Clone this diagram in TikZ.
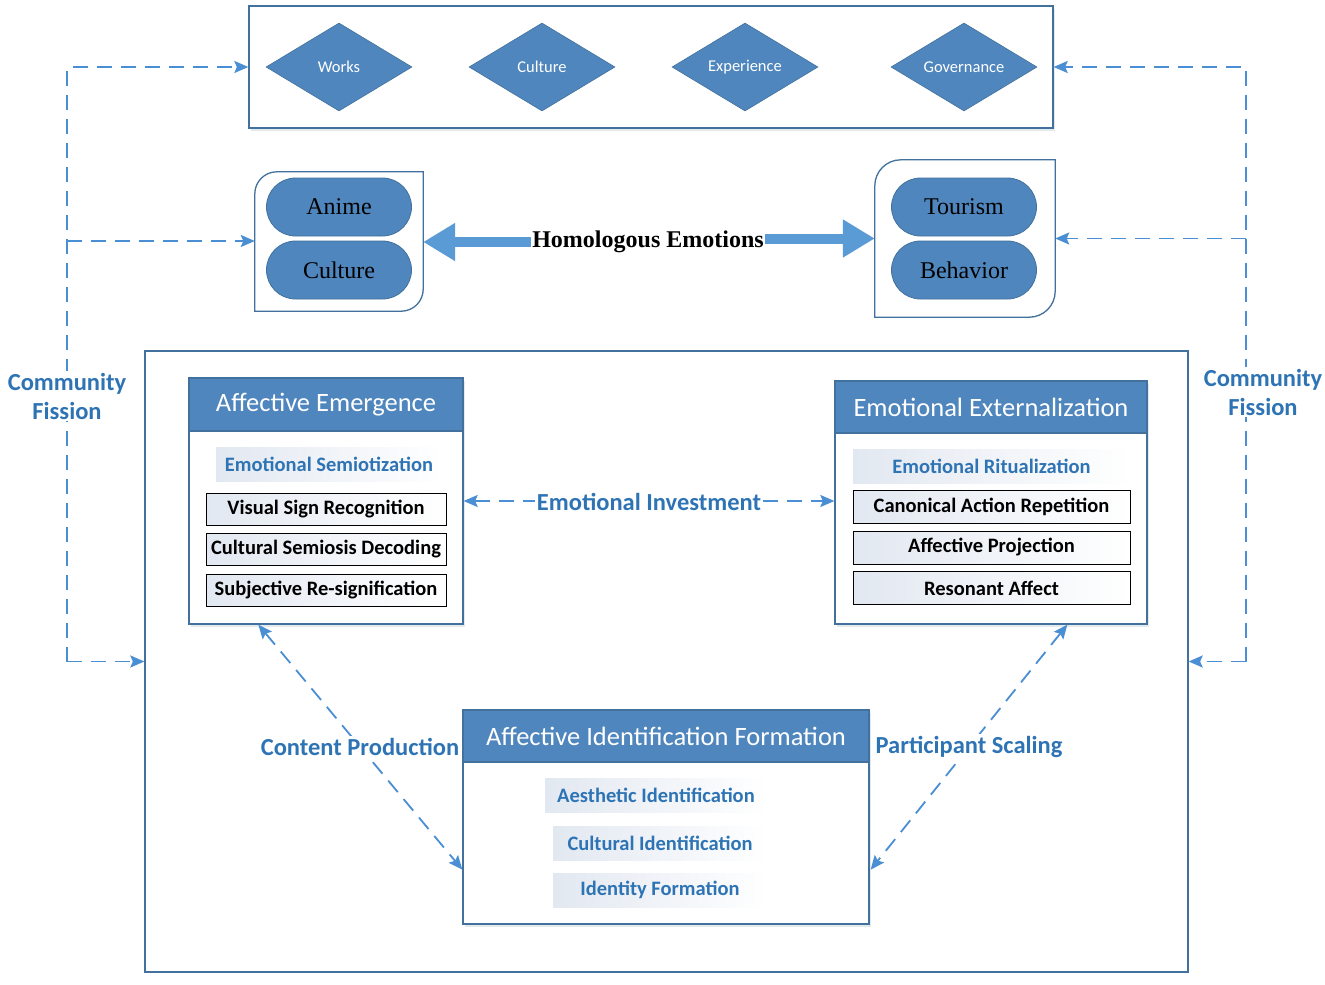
\documentclass[tikz,border=0pt]{standalone}
\usepackage{fontspec}
\setmainfont{Liberation Serif}
\newfontfamily\calib{Carlito}
\usetikzlibrary{shapes.geometric,arrows.meta,calc,shadows}
\definecolor{boxblue}{HTML}{4F86BD}
\definecolor{edgeblue}{HTML}{41719C}
\definecolor{dashblue}{HTML}{4A8ED4}
\definecolor{txtblue}{HTML}{2E74B5}
\definecolor{fatblue}{HTML}{5B9BD5}
\definecolor{gradL}{HTML}{E2E8F1}
\begin{document}
\begin{tikzpicture}[x=1pt,y=-1pt,
  dia/.style={diamond, fill=boxblue, draw=edgeblue, line width=0.6pt, minimum width=146pt, minimum height=88pt, inner sep=0pt, aspect=1.66, text=white, font=\calib\fontsize{16.5}{18}\selectfont},
  pill/.style={rectangle, rounded corners=29pt, fill=boxblue, draw=edgeblue, line width=0.8pt, minimum width=145pt, minimum height=58pt, font=\fontsize{24}{28}\selectfont},
  frame/.style={draw=edgeblue, line width=1.3pt, inner sep=0pt},
  shad/.style={drop shadow={shadow xshift=1.5pt, shadow yshift=-2.5pt, fill=edgeblue!30, opacity=0.5}},
  header/.style={fill=boxblue, draw=edgeblue, line width=1.3pt, text=white, inner sep=0pt, font=\calib\fontsize{26.5}{30}\selectfont},
  subt/.style={left color=gradL, right color=white, inner sep=0pt, minimum height=34pt, text=txtblue, font=\calib\bfseries\fontsize{20.5}{23}\selectfont},
  item/.style={draw=black, line width=1pt, left color=gradL, right color=white, inner sep=0pt, font=\calib\bfseries\fontsize{20.5}{23}\selectfont},
  dsh/.style={draw=dashblue, line width=1.8pt, dash pattern=on 15pt off 9pt},
  tip/.style={-{Stealth[length=14pt,width=12pt,inset=2.5pt]}},
  lbl/.style={fill=white, inner sep=2pt, text=txtblue, font=\calib\bfseries\fontsize{24.5}{29}\selectfont},
  fat/.style={draw=fatblue, line width=10pt, -{Triangle[length=32pt,width=36pt]}}
]
\useasboundingbox (0,0) rectangle (1325,985);
\fill[white] (0,0) rectangle (1325,985);

% top box with diamonds
\node[frame, shad, fill=white, minimum width=804pt, minimum height=122pt] (top) at (651,67) {};
\node[dia] (works) at (339,67) {Works};
\node[dia] (cult) at (542,67) {Culture};
\node[dia] (exper) at (745,67) {Experience};
\node[dia] (gov) at (964,67) {Governance};

% small boxes
\node[minimum width=168pt, minimum height=139pt, inner sep=0pt] (lbox) at (339,241.5) {};
\draw[draw=edgeblue, line width=1.3pt] (lbox.south west) -- (lbox.west) [rounded corners=22pt] -- (lbox.north west) -- (lbox.north) [sharp corners] -- (lbox.north east) -- (lbox.east) [rounded corners=22pt] -- (lbox.south east) -- (lbox.south) [sharp corners] -- cycle;
\node[minimum width=180pt, minimum height=157pt, inner sep=0pt] (rbox) at (965,238.5) {};
\draw[draw=edgeblue, line width=1.3pt] (rbox.south west) -- (rbox.west) [rounded corners=26pt] -- (rbox.north west) -- (rbox.north) [sharp corners] -- (rbox.north east) -- (rbox.east) [rounded corners=26pt] -- (rbox.south east) -- (rbox.south) [sharp corners] -- cycle;
\node[pill] (anime) at (339,207) {Anime};
\node[pill] (aculture) at (339,270) {Culture};
\node[pill] (tourism) at (964,207) {Tourism};
\node[pill] (behavior) at (964,270) {Behavior};

\node[font=\bfseries\fontsize{24}{26}\selectfont, inner sep=1pt] (homo) at (648,242) {Homologous Emotions};
\draw[fat] (homo.west) -- (homo.west -| lbox.east);
\draw[fat] (homo.east |- rbox.west) -- (rbox.west);

% big box
\node[frame, minimum width=1043pt, minimum height=621pt] (big) at (666.5,661.5) {};

% Affective Emergence
\node[frame, shad, fill=white, minimum width=274pt, minimum height=246pt] (ae) at (326,501) {};
\node[header, minimum width=274pt, minimum height=53pt, anchor=north] (aeh) at (ae.north) {Affective Emergence};
\node[subt, minimum width=226pt] (aes) at (329,464) {Emotional Semiotization};
\node[item, minimum width=240pt, minimum height=32pt] (ae1) at (326,509) {Visual Sign Recognition};
\node[item, minimum width=240pt, minimum height=32pt] (ae2) at (326,549.5) {Cultural Semiosis Decoding};
\node[item, minimum width=240pt, minimum height=32pt] (ae3) at (326,590) {Subjective Re-signification};

% Emotional Externalization
\node[frame, shad, fill=white, minimum width=312pt, minimum height=243pt] (ee) at (991,502.5) {};
\node[header, minimum width=312pt, minimum height=52pt, anchor=north] (eeh) at (ee.north) {Emotional Externalization};
\node[subt, minimum width=277pt] (ees) at (991.5,466) {Emotional Ritualization};
\node[item, minimum width=277pt, minimum height=33pt] (ee1) at (991.5,506.5) {Canonical Action Repetition};
\node[item, minimum width=277pt, minimum height=33pt] (ee2) at (991.5,547.5) {Affective Projection};
\node[item, minimum width=277pt, minimum height=33pt] (ee3) at (991.5,588) {Resonant Affect};

% Affective Identification Formation
\node[frame, shad, fill=white, minimum width=406pt, minimum height=214pt] (aif) at (666,817) {};
\node[header, minimum width=406pt, minimum height=52pt, anchor=north] (aifh) at (aif.north) {Affective Identification Formation};
\node[subt, minimum width=222pt] (aif1) at (656,795) {Aesthetic Identification};
\node[subt, minimum width=214pt] (aif2) at (660,843) {Cultural Identification};
\node[subt, minimum width=214pt] (aif3) at (660,890) {Identity Formation};

% inner connectors
\draw[dsh, {Stealth[length=14pt,width=12pt,inset=2.5pt]}-{Stealth[length=14pt,width=12pt,inset=2.5pt]}] (ae.east) -- (ae.east -| ee.west);
\draw[dsh, {Stealth[length=14pt,width=12pt,inset=2.5pt]}-{Stealth[length=14pt,width=12pt,inset=2.5pt]}] ($(ae.south west)+(70,0)$) -- ($(aif.south west)+(0,-55)$);
\draw[dsh, {Stealth[length=14pt,width=12pt,inset=2.5pt]}-{Stealth[length=14pt,width=12pt,inset=2.5pt]}] ($(ee.south west)+(233,0)$) -- ($(aif.south east)+(1,-55)$);
\node[lbl] (ei) at (649,502) {Emotional Investment};
\node[lbl] (cp) at (360,747) {Content Production};
\node[lbl] (ps) at (969,747) {Participant Scaling};

% community fission, left
\coordinate (lt) at (67,67);
\coordinate (lm) at (67,241);
\coordinate (lb) at (67,661.5);
\draw[dsh, tip] (lb) -- (lt) -- (top.west);
\draw[dsh, tip] (lm) -- (lm -| lbox.west);
\draw[dsh, tip] (lb) -- (big.west);
\node[lbl, align=center, inner xsep=1pt] (cfl) at (67,396) {Community\\Fission};

% community fission, right
\coordinate (rt) at (1246,67);
\coordinate (rm) at (1246,238.5);
\coordinate (rb) at (1246,661.5);
\draw[dsh, tip] (rb) -- (rt) -- (top.east);
\draw[dsh, tip] (rm) -- (rbox.east);
\draw[dsh, tip] (rb) -- (big.east);
\node[lbl, align=center, inner xsep=1pt] (cfr) at (1263,392) {Community\\Fission};
\end{tikzpicture}
\end{document}
